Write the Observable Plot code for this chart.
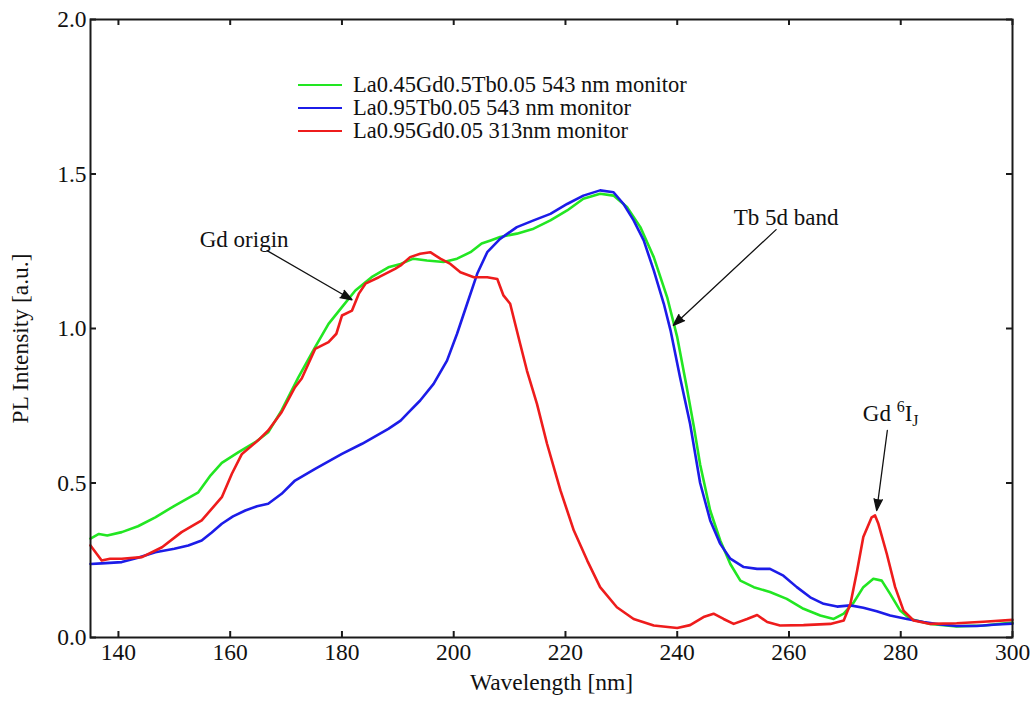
<!DOCTYPE html>
<html><head><meta charset="utf-8">
<script src="https://cdn.jsdelivr.net/npm/d3@7"></script>
<script src="https://cdn.jsdelivr.net/npm/@observablehq/plot@0.6"></script>
<style>
body{margin:0;background:#fff;}
#wrap{position:relative;width:1033px;height:704px;font-family:"Liberation Serif","Times New Roman",serif;color:#111;}
.leg{position:absolute;left:298px;top:73.5px;font-size:22.5px;}
.row{display:flex;align-items:center;height:23px;white-space:nowrap;}
.sw{width:44px;height:0;border-top:2.5px solid;margin-right:11px;}
</style></head><body><div id="wrap"></div>
<script>
// ---- data ----
const seriesNames = ["La0.45Gd0.5Tb0.05 543 nm monitor", "La0.95Tb0.05 543 nm monitor", "La0.95Gd0.05 313nm monitor"];
const seriesColors = ["#22e622", "#1c1ce8", "#ee1c1c"];

const greenX = [135,136.5,138,140.6,143.5,146.6,150.1,154.3,156.5,158.5,161.5,164.5,166.8,169.2,172.2,175.2,177.6,180,182.4,185.3,188.3,190.5,192.8,195.2,198.2,200.6,203,205,206.6,208.3,211.3,214.3,217.3,220.3,223.2,226.2,228.6,231,233.4,235.8,238.2,240,241.7,243,244.1,245.9,247.7,249.5,251.3,253.7,256.6,259.6,262.6,265.6,268,269.8,271.6,273.3,275.1,276.6,278.1,279.9,281.7,285.3,290,294.8,300];
const greenY = [0.32,0.335,0.33,0.341,0.36,0.389,0.427,0.47,0.525,0.565,0.6,0.632,0.664,0.735,0.842,0.94,1.015,1.069,1.123,1.166,1.198,1.209,1.226,1.22,1.215,1.226,1.247,1.275,1.285,1.296,1.307,1.323,1.35,1.382,1.42,1.436,1.43,1.393,1.328,1.231,1.101,0.972,0.81,0.68,0.56,0.411,0.314,0.238,0.184,0.163,0.147,0.125,0.093,0.071,0.06,0.077,0.114,0.163,0.19,0.184,0.141,0.087,0.06,0.044,0.036,0.039,0.048];

const blueX = [135,137,140.6,143.5,146.6,150,152.5,154.9,156.7,158.5,160.5,162.7,164.8,166.8,169.2,171.6,175.2,180,183.6,188.3,190.5,192,194,196.4,198.8,200.6,202.4,204.2,206,208.3,211.3,214.3,217.3,220.3,223.2,226.2,228.6,230.4,232.2,234,235.8,237.6,238.8,240.5,242.3,244.1,245.9,247.7,249.5,251.9,254.3,256.6,259,261.4,263.8,266.2,268.6,271,273.3,275.7,278.1,281.1,284.1,287.1,290,293.6,297.2,300];
const blueY = [0.238,0.24,0.244,0.258,0.276,0.287,0.298,0.314,0.34,0.368,0.392,0.411,0.425,0.433,0.465,0.508,0.546,0.594,0.627,0.675,0.702,0.73,0.767,0.821,0.896,0.983,1.08,1.177,1.247,1.29,1.328,1.35,1.371,1.403,1.43,1.447,1.441,1.403,1.35,1.285,1.188,1.08,0.994,0.842,0.692,0.5,0.379,0.303,0.255,0.228,0.222,0.222,0.2,0.163,0.13,0.109,0.1,0.104,0.096,0.085,0.071,0.06,0.05,0.042,0.037,0.037,0.042,0.045];

const redX = [135,137,138.5,140.6,144.2,147.8,151.3,154.9,158.5,160.3,162.1,165,166.8,169.2,171.6,172.8,174,175.2,177.6,179,180,181.8,183,184.2,186.6,189.5,190.5,192.2,194,195.8,197.6,199.4,201.2,203.6,206,207.8,208.9,210.1,211.9,213.1,214.9,216.7,219.1,221.5,223.9,226.2,229.2,232.2,235.8,240,242.3,244.7,246.5,248.3,250.1,252.5,254.3,256.1,258.4,262.6,267.4,269.8,271,272.2,273.3,274.8,275.4,276,277.5,279,280.5,282.3,285.3,290,294.8,300];
const redY = [0.298,0.249,0.255,0.255,0.26,0.292,0.341,0.379,0.454,0.53,0.594,0.638,0.67,0.729,0.81,0.838,0.886,0.934,0.956,0.983,1.042,1.058,1.112,1.145,1.166,1.193,1.204,1.231,1.242,1.247,1.226,1.209,1.182,1.166,1.166,1.16,1.107,1.08,0.95,0.864,0.756,0.627,0.476,0.346,0.249,0.163,0.098,0.06,0.039,0.031,0.04,0.066,0.077,0.06,0.044,0.06,0.073,0.05,0.039,0.04,0.044,0.055,0.109,0.217,0.325,0.389,0.395,0.368,0.271,0.163,0.087,0.055,0.044,0.046,0.051,0.057];

const xTicks = [140,160,180,200,220,240,260,280,300];
const yTicks = [0,0.5,1.0,1.5,2.0];

const annLabels = ["Gd origin", "Tb 5d band", "Gd 6IJ"];
const annTextX = [162.5, 259.5, 278.2];
const annTextY = [1.289, 1.36, 0.723];
const arrowX1 = [166.6, 257.7, 277.6];
const arrowY1 = [1.252, 1.32, 0.67];
const arrowX2 = [181.8, 239.3, 275.7];
const arrowY2 = [1.093, 1.01, 0.411];

// ---- build ----
const seriesXs = [greenX, blueX, redX];
const seriesYs = [greenY, blueY, redY];
const rows = [];
seriesNames.forEach((name, i) => seriesXs[i].forEach((x, j) => rows.push({series: name, x, y: seriesYs[i][j]})));
const ann = annLabels.map((t, i) => ({t, x: annTextX[i], y: annTextY[i], x1: arrowX1[i], y1: arrowY1[i], x2: arrowX2[i], y2: arrowY2[i]}));

const W = 1033, Hh = 704, mt = 19, mr = 21, mb = 67, ml = 90;
const iw = W - ml - mr, ih = Hh - mt - mb;
const frameColor = "#1a1a1a";

const chart = Plot.plot({
  width: W, height: Hh, marginTop: mt, marginRight: mr, marginBottom: mb, marginLeft: ml,
  style: {fontFamily: '"Liberation Serif","Times New Roman",serif', fontSize: "23px", background: "#fff", color: "#111"},
  x: {domain: [135, 300]},
  y: {domain: [0, 2]},
  color: {domain: seriesNames, range: seriesColors},
  marks: [
    Plot.line(rows, {x: "x", y: "y", z: "series", stroke: "series", strokeWidth: 2.6, strokeLinejoin: "round"}),
    Plot.arrow(ann, {x1: "x1", y1: "y1", x2: "x2", y2: "y2", stroke: "#111", fill: "#111", strokeWidth: 1.3, headLength: 14, headAngle: 40}),
    Plot.text(ann, {x: "x", y: "y", text: "t", fontSize: 23, fill: "#111"}),
    Plot.tickX(xTicks, {x: d => d, insetTop: ih - 6, stroke: frameColor, strokeWidth: 2}),
    Plot.tickX(xTicks, {x: d => d, insetBottom: ih - 6, stroke: frameColor, strokeWidth: 2}),
    Plot.tickY(yTicks, {y: d => d, insetRight: iw - 6, stroke: frameColor, strokeWidth: 2}),
    Plot.tickY(yTicks, {y: d => d, insetLeft: iw - 6, stroke: frameColor, strokeWidth: 2}),
    Plot.axisX({ticks: xTicks, tickSize: 0, tickPadding: 6, fontSize: 23.5, label: "Wavelength [nm]", labelArrow: "none", labelAnchor: "center", labelOffset: 52, tickFormat: d3.format("d")}),
    Plot.axisY({ticks: yTicks, tickSize: 0, tickPadding: 4, fontSize: 23.5, label: "PL Intensity [a.u.]", labelArrow: "none", labelAnchor: "center", labelOffset: 79, tickFormat: d3.format(".1f")}),
    Plot.frame({stroke: frameColor, strokeWidth: 2})
  ]
});

const wrap = document.getElementById("wrap");
wrap.appendChild(chart);

d3.select(chart).selectAll("text").each(function() {
  // superscript/subscript for Gd 6IJ
  if (this.textContent === "Gd 6IJ") {
    const t = d3.select(this);
    t.text("");
    t.append("tspan").text("Gd ");
    t.append("tspan").attr("font-size", 16).attr("dy", -9).text("6");
    t.append("tspan").attr("dy", 9).text("I");
    t.append("tspan").attr("font-size", 16).attr("dy", 5).text("J");
  }
  // y label sits a little below the plot centre in the reference
  if (this.textContent === "PL Intensity [a.u.]") {
    d3.select(this).attr("dx", -10);
  }
});

// legend
const leg = document.createElement("div");
leg.className = "leg";
seriesNames.forEach((n, i) => {
  const r = document.createElement("div"); r.className = "row";
  const s = document.createElement("span"); s.className = "sw"; s.style.borderTopColor = seriesColors[i];
  const l = document.createElement("span"); l.textContent = n;
  r.appendChild(s); r.appendChild(l); leg.appendChild(r);
});
wrap.appendChild(leg);
</script></body></html>
